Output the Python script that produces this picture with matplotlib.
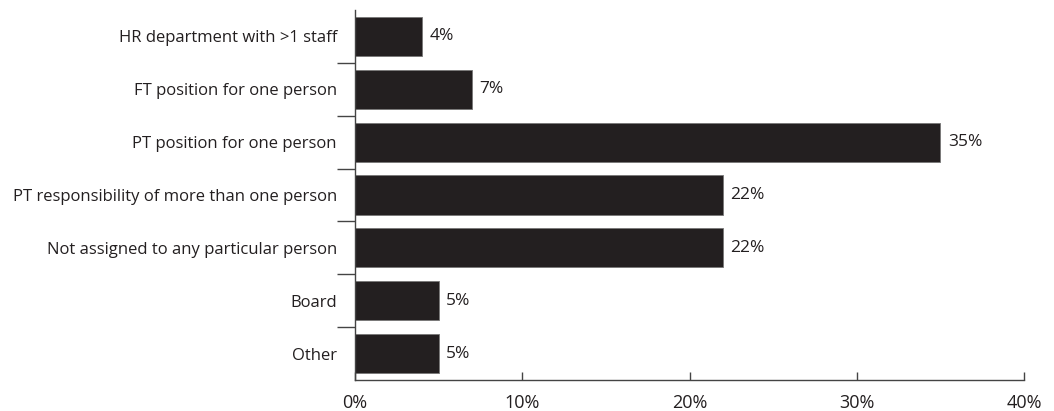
import matplotlib.pyplot as plt
import numpy as np
from matplotlib.ticker import FixedLocator

categories = ['HR department with >1 staff', 'FT position for one person', 'PT position for one person',
              'PT responsibility of more than one person', 'Not assigned to any particular person',
              'Board', 'Other']
values = [4, 7, 35, 22, 22, 5, 5]
xticks = [0, 10, 20, 30, 40]

plt.rcParams['font.family'] = ['Open Sans', 'DejaVu Sans']

fig = plt.figure(figsize=(10.54, 4.11), dpi=100)
ax = fig.add_axes([355/1054, 1 - 380/411, (1024 - 355)/1054, 370/411])

y = np.arange(len(categories))
ax.barh(y, values, height=0.74, color='#231f20', edgecolor='#777777', linewidth=0.6)
for yi, v in zip(y, values):
    ax.text(v + 0.45, yi, '{}%'.format(v), va='center', ha='left', fontsize=12.5, color='#231f20')

ax.set_ylim(len(categories) - 0.5, -0.5)
ax.set_xlim(0, 40)
ax.set_yticks(y)
ax.set_yticklabels(categories, fontsize=12, color='#231f20')
ax.yaxis.set_minor_locator(FixedLocator(np.arange(0.5, len(categories) - 0.5, 1)))
ax.tick_params(axis='y', which='major', length=0, pad=13)
ax.tick_params(axis='y', which='minor', length=13, width=1, color='#444444')

ax.set_xticks(xticks)
ax.set_xticklabels(['{}%'.format(t) for t in xticks], fontsize=13, color='#231f20')
ax.tick_params(axis='x', direction='in', length=6, width=1, color='#444444', pad=10)

for s in ['top', 'right']:
    ax.spines[s].set_visible(False)
for s in ['left', 'bottom']:
    ax.spines[s].set_color('#444444')
    ax.spines[s].set_linewidth(1)

fig.savefig('out.png', dpi=100)
